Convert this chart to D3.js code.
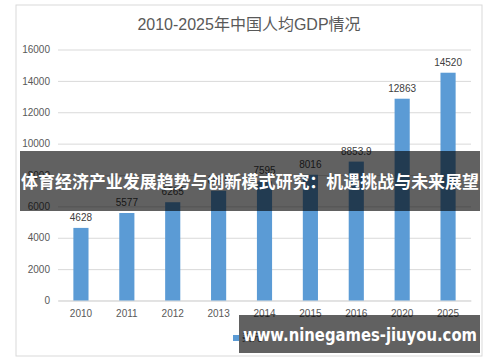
<!DOCTYPE html>
<html><head><meta charset="utf-8">
<script src="https://cdn.jsdelivr.net/npm/d3@7"></script>
<style>body{margin:0;background:#fff;}svg{display:block;font-family:"Noto Sans CJK SC","Liberation Sans",sans-serif;}</style>
</head><body>
<svg id="c" width="500" height="362"></svg>
<script>
const title = "2010-2025年中国人均GDP情况";
const years = ["2010","2011","2012","2013","2014","2015","2016","2020","2025"];
const values = [4628, 5577, 6265, 6995, 7595, 8016, 8853.9, 12863, 14520];
const valueLabels = ["4628","5577","6265","6995","7595","8016","8853.9","12863","14520"];
const yTicks = [0, 2000, 4000, 6000, 8000, 10000, 12000, 14000, 16000];
const legendLabel = "美元";
const bannerText = "体育经济产业发展趋势与创新模式研究：机遇挑战与未来展望";
const watermark = "www.ninegames-jiuyou.com";

const svg = d3.select("#c");
svg.append("rect").attr("x",16).attr("y",5).attr("width",466).attr("height",351)
  .attr("fill","#fff").attr("stroke","#d9d9d9").attr("stroke-width",1);

const x = d3.scaleBand().domain(years).range([58,471]).paddingInner(0.67).paddingOuter(0.335);
const y = d3.scaleLinear().domain([0,16000]).range([300.5,49.5]);

svg.append("text").attr("x",249).attr("y",30).attr("text-anchor","middle")
  .attr("font-size",16).attr("fill","#595959").attr("font-family","'Liberation Sans','Noto Sans CJK SC',sans-serif").text(title);

const yAxis = d3.axisLeft(y).tickValues(yTicks).tickSize(-(471-58)).tickPadding(8).tickFormat(d3.format("d"));
const gy = svg.append("g").attr("transform","translate(58,0)").call(yAxis);
gy.select(".domain").remove();
gy.selectAll(".tick line").attr("stroke","#d9d9d9");
gy.selectAll(".tick text").attr("fill","#595959").attr("font-size",10).attr("font-family","'Liberation Sans',sans-serif");

const xAxis = d3.axisBottom(x).tickSize(0).tickPadding(9);
const gx = svg.append("g").attr("transform","translate(0,300.5)").call(xAxis);
gx.select(".domain").attr("stroke","#d9d9d9");
gx.selectAll(".tick text").attr("fill","#595959").attr("font-size",10).attr("font-family","'Liberation Sans',sans-serif");

svg.selectAll("rect.bar").data(values).join("rect").attr("class","bar")
  .attr("x",(d,i)=>x(years[i])).attr("width",x.bandwidth())
  .attr("y",d=>y(d)).attr("height",d=>y(0)-y(d)).attr("fill","#5B9BD5");

svg.selectAll("text.lbl").data(values).join("text").attr("class","lbl")
  .attr("x",(d,i)=>x(years[i])+x.bandwidth()/2).attr("y",d=>y(d)-7)
  .attr("text-anchor","middle").attr("font-size",10).attr("fill","#404040")
  .attr("font-family","'Liberation Sans',sans-serif")
  .text((d,i)=>valueLabels[i]);

// legend
svg.append("rect").attr("x",233).attr("y",335).attr("width",6).attr("height",6).attr("fill","#5B9BD5");
svg.append("text").attr("x",242).attr("y",341).attr("font-size",10).attr("fill","#595959").text(legendLabel);

// overlays
svg.append("rect").attr("x",20).attr("y",151).attr("width",460).attr("height",60).attr("fill","#000").attr("opacity",0.62);
svg.append("text").attr("x",21).attr("y",188).attr("font-size",17)
  .attr("textLength",458).attr("lengthAdjust","spacingAndGlyphs")
  .attr("font-weight","bold").attr("fill","#fff").text(bannerText);

svg.append("rect").attr("x",239).attr("y",315).attr("width",241).attr("height",38).attr("fill","#000").attr("opacity",0.62);
svg.append("text").attr("x",243).attr("y",341).attr("font-size",18)
  .attr("textLength",234).attr("lengthAdjust","spacingAndGlyphs")
  .attr("font-weight","bold").attr("fill","#fff").attr("font-family","'DejaVu Sans',sans-serif").text(watermark);
</script>
</body></html>
